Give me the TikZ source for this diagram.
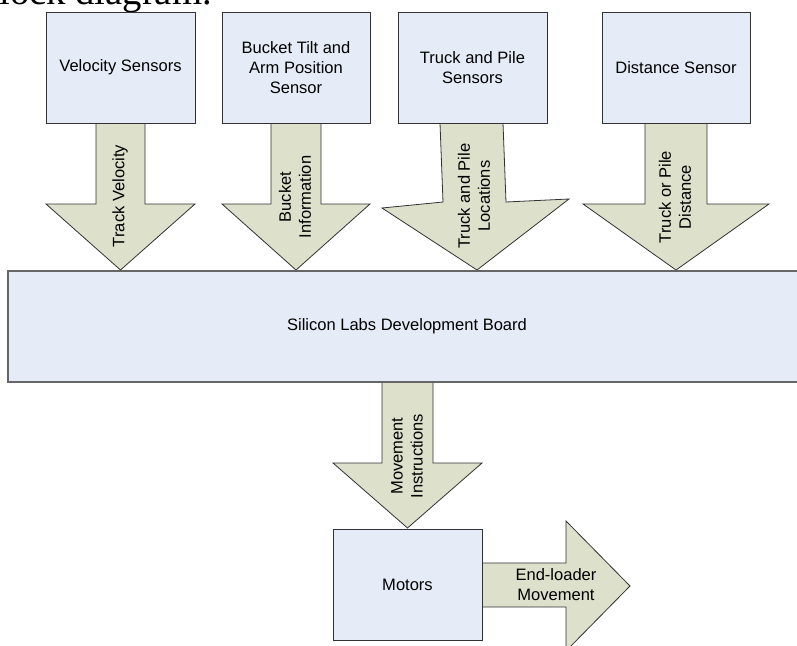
\documentclass[tikz,border=0pt]{standalone}
\usepackage{fontspec}
\setmainfont{Liberation Sans}
\newfontfamily\titleserif{Liberation Serif}
\definecolor{boxfill}{RGB}{230,236,247}
\definecolor{arrowfill}{RGB}{221,224,203}
\definecolor{edge}{RGB}{50,50,50}
\begin{document}
\begin{tikzpicture}[x=0.75pt,y=-0.75pt,
  blockbox/.style={draw=edge,line width=0.6pt,fill=boxfill,inner sep=0pt,
    font=\fontsize{12.4}{15}\selectfont,align=center},
  blockarrow/.style={draw=edge,line width=0.6pt,fill=arrowfill,line join=miter},
  label/.style={font=\fontsize{12.4}{15}\selectfont,align=center,inner sep=0pt}]
\useasboundingbox (0,0) rectangle (797,646);
\clip (0,0) rectangle (797,646);
% title fragment
\node[anchor=base west,inner sep=0pt,font=\titleserif\fontsize{29}{29}\selectfont] (title) at (-1,4.5) {lock diagram.};
% arrows
\draw[blockarrow] (96,123) -- (96,204) -- (46,204) -- (120.5,270) -- (195,204) -- (145,204) -- (145,123) -- cycle;
\draw[blockarrow] (271,123) -- (271,204) -- (222,204) -- (296,270) -- (370,204) -- (321,204) -- (321,123) -- cycle;
\draw[blockarrow] (440,123) -- (443,202) -- (382,208) -- (477,270) -- (569,199) -- (506,202) -- (503,123) -- cycle;
\draw[blockarrow] (645,123) -- (645,204) -- (583,204) -- (676,270) -- (769,204) -- (707,204) -- (707,123) -- cycle;
\draw[blockarrow] (382,382) -- (382,463) -- (333,463) -- (407.5,528) -- (482,463) -- (433,463) -- (433,382) -- cycle;
\draw[blockarrow] (482,563) -- (566,563) -- (566,521) -- (630,586) -- (566,651) -- (566,607) -- (482,607) -- cycle;
% boxes
\node[blockbox,minimum width=149*0.75pt,minimum height=111*0.75pt] (vel) at (120.5,67.5) {Velocity Sensors};
\node[blockbox,minimum width=148*0.75pt,minimum height=111*0.75pt] (bucket) at (296,67.5) {Bucket Tilt and\\Arm Position\\Sensor};
\node[blockbox,minimum width=149*0.75pt,minimum height=111*0.75pt] (truck) at (472.5,67.5) {Truck and Pile\\Sensors};
\node[blockbox,minimum width=148*0.75pt,minimum height=111*0.75pt] (dist) at (676,67.5) {Distance Sensor};
\node[blockbox,draw=black!60,line width=1.2pt,minimum width=798*0.75pt,minimum height=111*0.75pt] (board) at (407,326.5) {Silicon Labs Development Board};
\node[blockbox,minimum width=149*0.75pt,minimum height=111*0.75pt] (motors) at (407.5,584.5) {Motors};
% arrow labels
\node[label,rotate=90] (l1) at (120,196) {Track Velocity};
\node[label,rotate=90] (l2) at (295,197) {Bucket\\Information};
\node[label,rotate=90] (l3) at (474,196) {Truck and Pile\\Locations};
\node[label,rotate=90] (l4) at (675,197) {Truck or Pile\\Distance};
\node[label,rotate=90] (l5) at (407,456) {Movement\\Instructions};
\node[label] (l6) at (556,585) {End-loader\\Movement};
\end{tikzpicture}
\end{document}
